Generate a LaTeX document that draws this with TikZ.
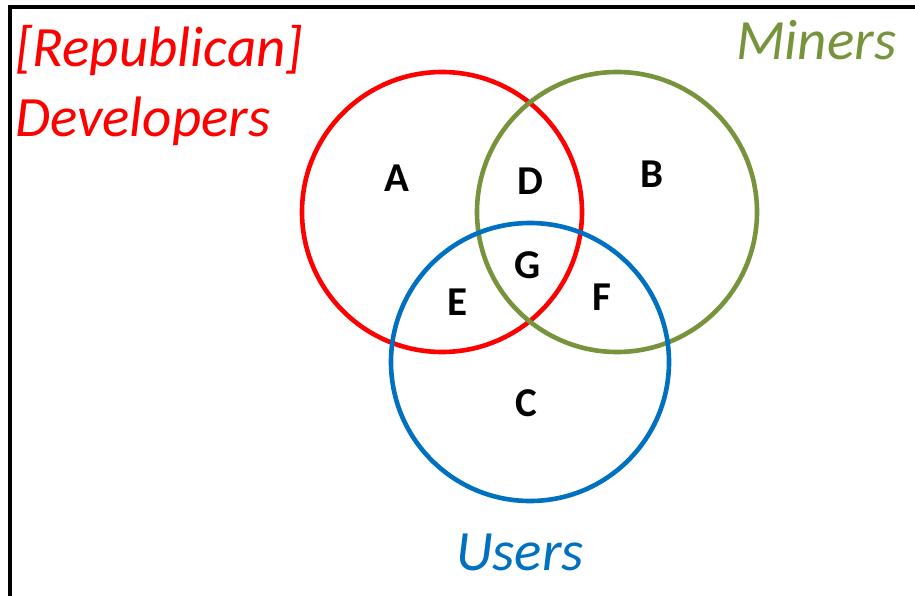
\documentclass[tikz,border=0pt]{standalone}
\usepackage{fontspec}
\setmainfont{Carlito}
\usepackage{xcolor}
\usetikzlibrary{positioning}

\definecolor{devred}{HTML}{FF0000}
\definecolor{minergreen}{HTML}{77933C}
\definecolor{userblue}{HTML}{0070C0}

\tikzset{
    setline/.style={line width=4.6pt},
    grouplabel/.style={inner sep=0pt, anchor=base west, font=\fontsize{57}{64}\selectfont\itshape},
    region/.style={inner sep=0pt, font=\fontsize{41}{44}\selectfont\bfseries}
}

\begin{document}
\begin{tikzpicture}[x=1pt, y=-1pt]
    \useasboundingbox (0,0) rectangle (915,596);
    % frame
    \draw[line width=4pt] (10,596) -- (10,7) -- (915,7);

    % the three sets
    \coordinate (dev) at (442,212);
    \coordinate (min) at (617,212);
    \coordinate (usr) at (530,362);
    \draw[setline, devred] (dev) circle (140);
    \draw[setline, minergreen] (min) circle (140);
    \draw[setline, userblue] (usr) circle (139);

    % names of the sets
    \node[grouplabel, devred] (rep) at (15,67) {[Republican]};
    \node[grouplabel, devred] (devname) at (15,137) {Developers};
    \node[grouplabel, minergreen] (minname) at (736,60) {Miners};
    \node[grouplabel, userblue] (usrname) at (456,570) {Users};

    % regions
    \node[region] (A) at (397,178) {A};
    \node[region] (B) at (652,174) {B};
    \node[region] (C) at (526,403) {C};
    \node[region] (D) at (530,181) {D};
    \node[region] (E) at (457,302) {E};
    \node[region] (F) at (602,297) {F};
    \node[region] (G) at (528,265) {G};
\end{tikzpicture}
\end{document}
